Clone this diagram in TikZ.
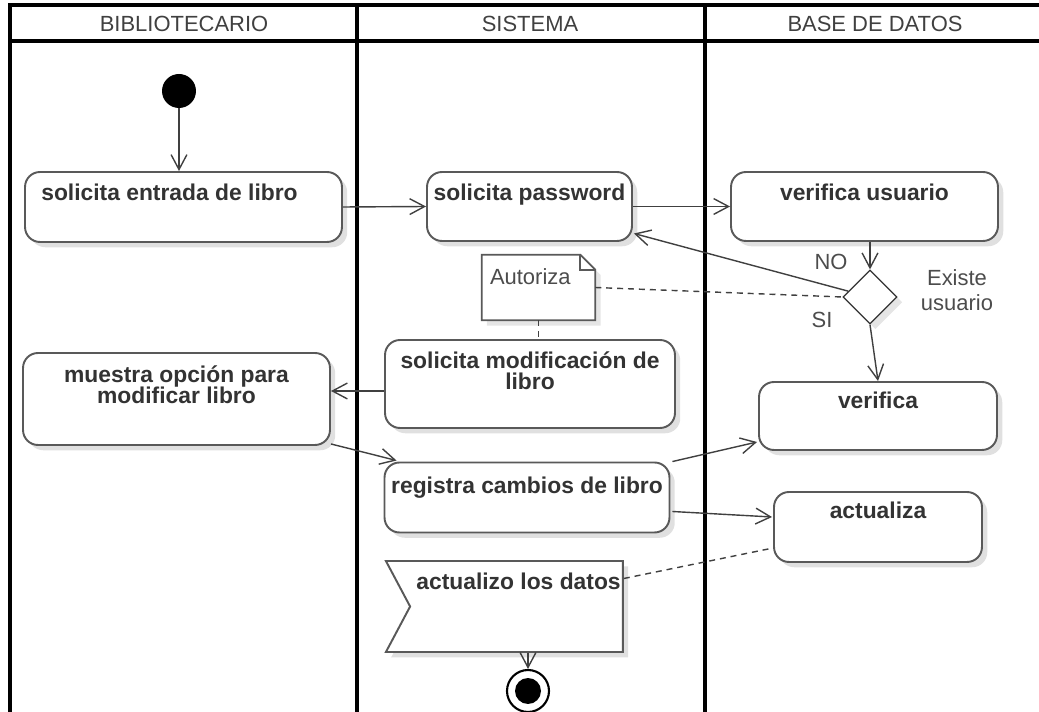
\documentclass[tikz,border=0pt]{standalone}
\usepackage{fontspec}
\setmainfont{Liberation Sans}
\usetikzlibrary{positioning,arrows.meta,calc,shapes.geometric,shapes.symbols,shadows}

\begin{document}
\begin{tikzpicture}[x=0.02cm,y=-0.02cm,>={Straight Barb[length=8.5pt,width=9pt]},
  lane/.style={line width=2pt,black},
  lanetitle/.style={font=\fontsize{12.5}{14}\selectfont,text=black!75},
  act/.style={draw=black!65,line width=1.1pt,rounded corners=8.5pt,fill=white,
    drop shadow={shadow xshift=3pt,shadow yshift=-3pt,fill=black,opacity=0.12}},
  acttext/.style={font={\bfseries\fontsize{13}{12}\selectfont\lineskiplimit=-5pt},
    text=black!80,align=center,anchor=north,inner sep=0pt},
  flow/.style={->,draw=black!75,line width=0.8pt},
  link/.style={draw=black!75,line width=0.8pt,dash pattern=on 3.4pt off 2.8pt},
  notebox/.style={draw=black!65,line width=1pt,fill=white},
  small/.style={font=\fontsize{12.5}{14}\selectfont,text=black!70,inner sep=0pt}]
\useasboundingbox (0,0) rectangle (1039,712);

% carriles
\draw[lane] (10,712) -- (10,5) -- (1039,5);
\draw[lane] (10,41) -- (1039,41);
\draw[lane] (357,5) -- (357,712);
\draw[lane] (705,5) -- (705,712);
\node[lanetitle] (h1) at (184,24) {BIBLIOTECARIO};
\node[lanetitle] (h2) at (530,24) {SISTEMA};
\node[lanetitle] (h3) at (875,24) {BASE DE DATOS};

% inicio
\node[circle,fill=black,minimum size=0.68cm,inner sep=0pt] (start) at (179,91) {};

% actividades
\node[act,minimum width=6.34cm,minimum height=1.4cm] (b1) at (183.5,207) {};
\node[acttext] (t1) at ($(b1.north)+(-14,13)$) {solicita entrada de libro};
\node[act,minimum width=4.1cm,minimum height=1.38cm] (b2) at (529.5,206.5) {};
\node[acttext] (t2) at ($(b2.north)+(0,13)$) {solicita password};
\node[act,minimum width=5.34cm,minimum height=1.38cm] (b3) at (864.5,206.5) {};
\node[acttext] (t3) at ($(b3.north)+(0,13)$) {verifica usuario};
\node[act,minimum width=5.8cm,minimum height=1.76cm] (b4) at (530,384) {};
\node[acttext] (t4) at ($(b4.north)+(0,12)$) {solicita modificación de\\libro};
\node[act,minimum width=6.14cm,minimum height=1.84cm] (b5) at (176.5,399) {};
\node[acttext] (t5) at ($(b5.north)+(0,13)$) {muestra opción para\\modificar libro};
\node[act,minimum width=4.76cm,minimum height=1.36cm] (b6) at (878,416) {};
\node[acttext] (t6) at ($(b6.north)+(0,11)$) {verifica};
\node[act,minimum width=5.7cm,minimum height=1.4cm] (b7) at (527,497.5) {};
\node[acttext] (t7) at ($(b7.north)+(0,15)$) {registra cambios de libro};
\node[act,minimum width=4.16cm,minimum height=1.4cm] (b8) at (878,527) {};
\node[acttext] (t8) at ($(b8.north)+(0,11)$) {actualiza};

% decision
\node[diamond,draw=black!80,line width=0.7pt,fill=white,minimum size=1.08cm,inner sep=0pt,
  drop shadow={shadow xshift=3pt,shadow yshift=-3pt,fill=black,opacity=0.1}] (dia) at (870,297) {};
\node[small] (no) at (831,262) {NO};
\node[small] (si) at (822,320) {SI};
\node[small,align=center] (ex) at (957,290) {Existe\\usuario};

% nota
\node[minimum width=2.26cm,minimum height=1.3cm,inner sep=0pt] (note) at (538.5,287.5) {};
\filldraw[notebox,drop shadow={shadow xshift=3pt,shadow yshift=-3pt,fill=black,opacity=0.1}]
  (note.north west) -- ($(note.north east)+(-15,0)$) -- ($(note.north east)+(0,15)$)
  -- (note.south east) -- (note.south west) -- cycle;
\draw[notebox,fill=none] ($(note.north east)+(-15,0)$) |- ($(note.north east)+(0,15)$);
\node[small,anchor=base west] (t9) at ($(note.north west)+(8,30)$) {Autoriza};

% senal
\node[signal,signal from=west,signal to=nowhere,signal pointer angle=124,draw=black!65,
  line width=1.1pt,fill=white,minimum width=4.74cm,minimum height=1.82cm,inner sep=0pt,
  drop shadow={shadow xshift=3pt,shadow yshift=-3pt,fill=black,opacity=0.12}] (sig) at (516.5,606.5) {};
\node[acttext,anchor=base west] (t10) at (416,590) {actualizo los datos};

% final
\node[circle,draw=black,line width=1.2pt,fill=white,minimum size=0.84cm,inner sep=0pt] (end) at (528,691) {};
\fill (end.center) circle[radius=0.26cm];

% flujos
\draw[flow] (start) -- (start |- b1.north);
\draw[flow] (b1.east) -- (b2.west);
\draw[flow] (b2.east) -- (b3.west);
\draw[flow] (dia.north |- b3.south) -- (dia.north);
\draw[flow] (dia.165) -- ($(b2.east)+(1,27)$);
\draw[link] (note.east) -- (dia.west);
\draw[link] (note.south) -- (note.south |- b4.north);
\draw[flow] ($(b4.west)+(0,7)$) coordinate (p1) -- (p1 -| b5.east);
\draw[flow] ($(b5.south east)+(0,-2)$) -- ($(b7.north west)+(13,-1)$);
\draw[flow] (dia.south) -- (b6.north);
\draw[flow] ($(b7.north east)+(2,0)$) -- ($(b6.west)+(-1,26)$);
\draw[flow] ($(b7.east)+(2,14)$) -- ($(b8.west)+(-1,-10)$);
\draw[link] ($(sig.east)+(0,-28)$) -- ($(b8.west)+(0,21)$);
\draw[flow] (end.north |- sig.south) -- (end.north);
\end{tikzpicture}
\end{document}
